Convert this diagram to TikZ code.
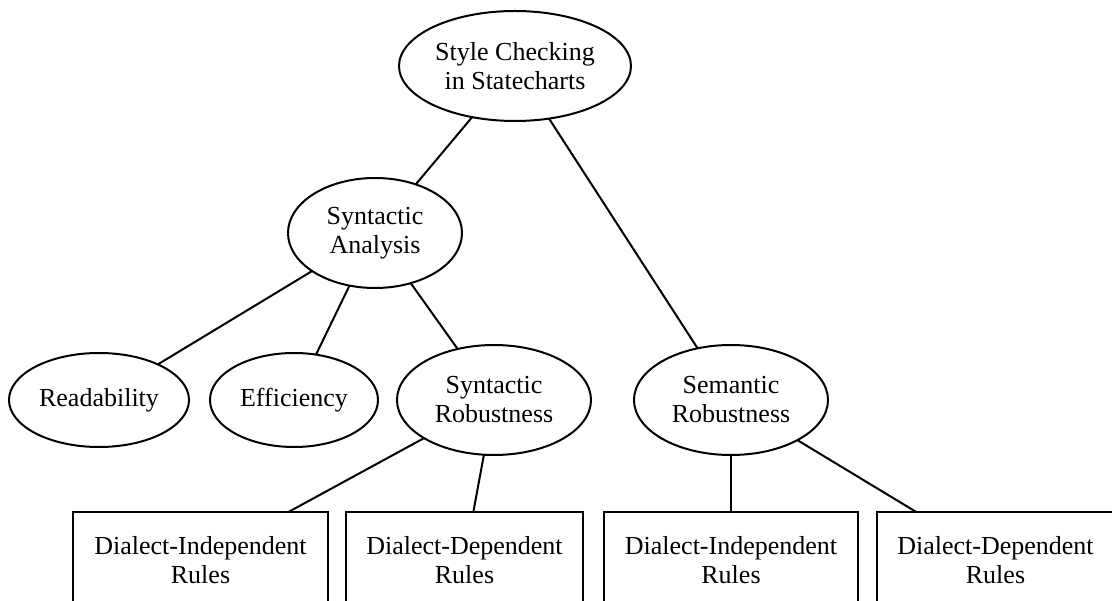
\documentclass[tikz,border=0pt]{standalone}
\usepackage{fontspec}
\setmainfont{Liberation Serif}
\usetikzlibrary{shapes.geometric}
\begin{document}
\begin{tikzpicture}[x=1pt,y=-1pt,
  label text/.style={font=\fontsize{26}{29}\selectfont, align=center},
  topic/.style={ellipse, draw, line width=2pt, inner sep=0pt, outer sep=0pt, label text},
  rulebox/.style={rectangle, draw, line width=2pt, inner sep=0pt, outer sep=0pt,
                  minimum height=96, label text},
  link/.style={line width=2pt}]
  \useasboundingbox (0,0) rectangle (1112,601);
  \clip (0,0) rectangle (1112,601);

  % hierarchy of topics
  \node[topic, minimum width=232, minimum height=110] (root) at (515,66) {Style Checking\\in Statecharts};
  \node[topic, minimum width=174, minimum height=110] (syn) at (375,233) {Syntactic\\Analysis};
  \node[topic, minimum width=180, minimum height=94] (read) at (99,400) {Readability};
  \node[topic, minimum width=168, minimum height=94] (eff) at (294,400) {Efficiency};
  \node[topic, minimum width=194, minimum height=110] (synrob) at (494,400) {Syntactic\\Robustness};
  \node[topic, minimum width=194, minimum height=110] (semrob) at (731,400) {Semantic\\Robustness};

  % rule sets
  \node[rulebox, minimum width=255] (synind) at (200.5,560) {Dialect-Independent\\Rules};
  \node[rulebox, minimum width=237] (syndep) at (464.5,560) {Dialect-Dependent\\Rules};
  \node[rulebox, minimum width=254] (semind) at (731,560) {Dialect-Independent\\Rules};
  \node[rulebox, minimum width=237] (semdep) at (995.5,560) {Dialect-Dependent\\Rules};

  % connections
  \draw[link] (root) -- (syn);
  \draw[link] (root) -- (semrob);
  \draw[link] (syn) -- (read);
  \draw[link] (syn) -- (eff);
  \draw[link] (syn) -- (synrob);
  \draw[link] (synrob) -- (synind);
  \draw[link] (synrob) -- (syndep);
  \draw[link] (semrob) -- (semind);
  \draw[link] (semrob) -- (semdep);
\end{tikzpicture}
\end{document}
